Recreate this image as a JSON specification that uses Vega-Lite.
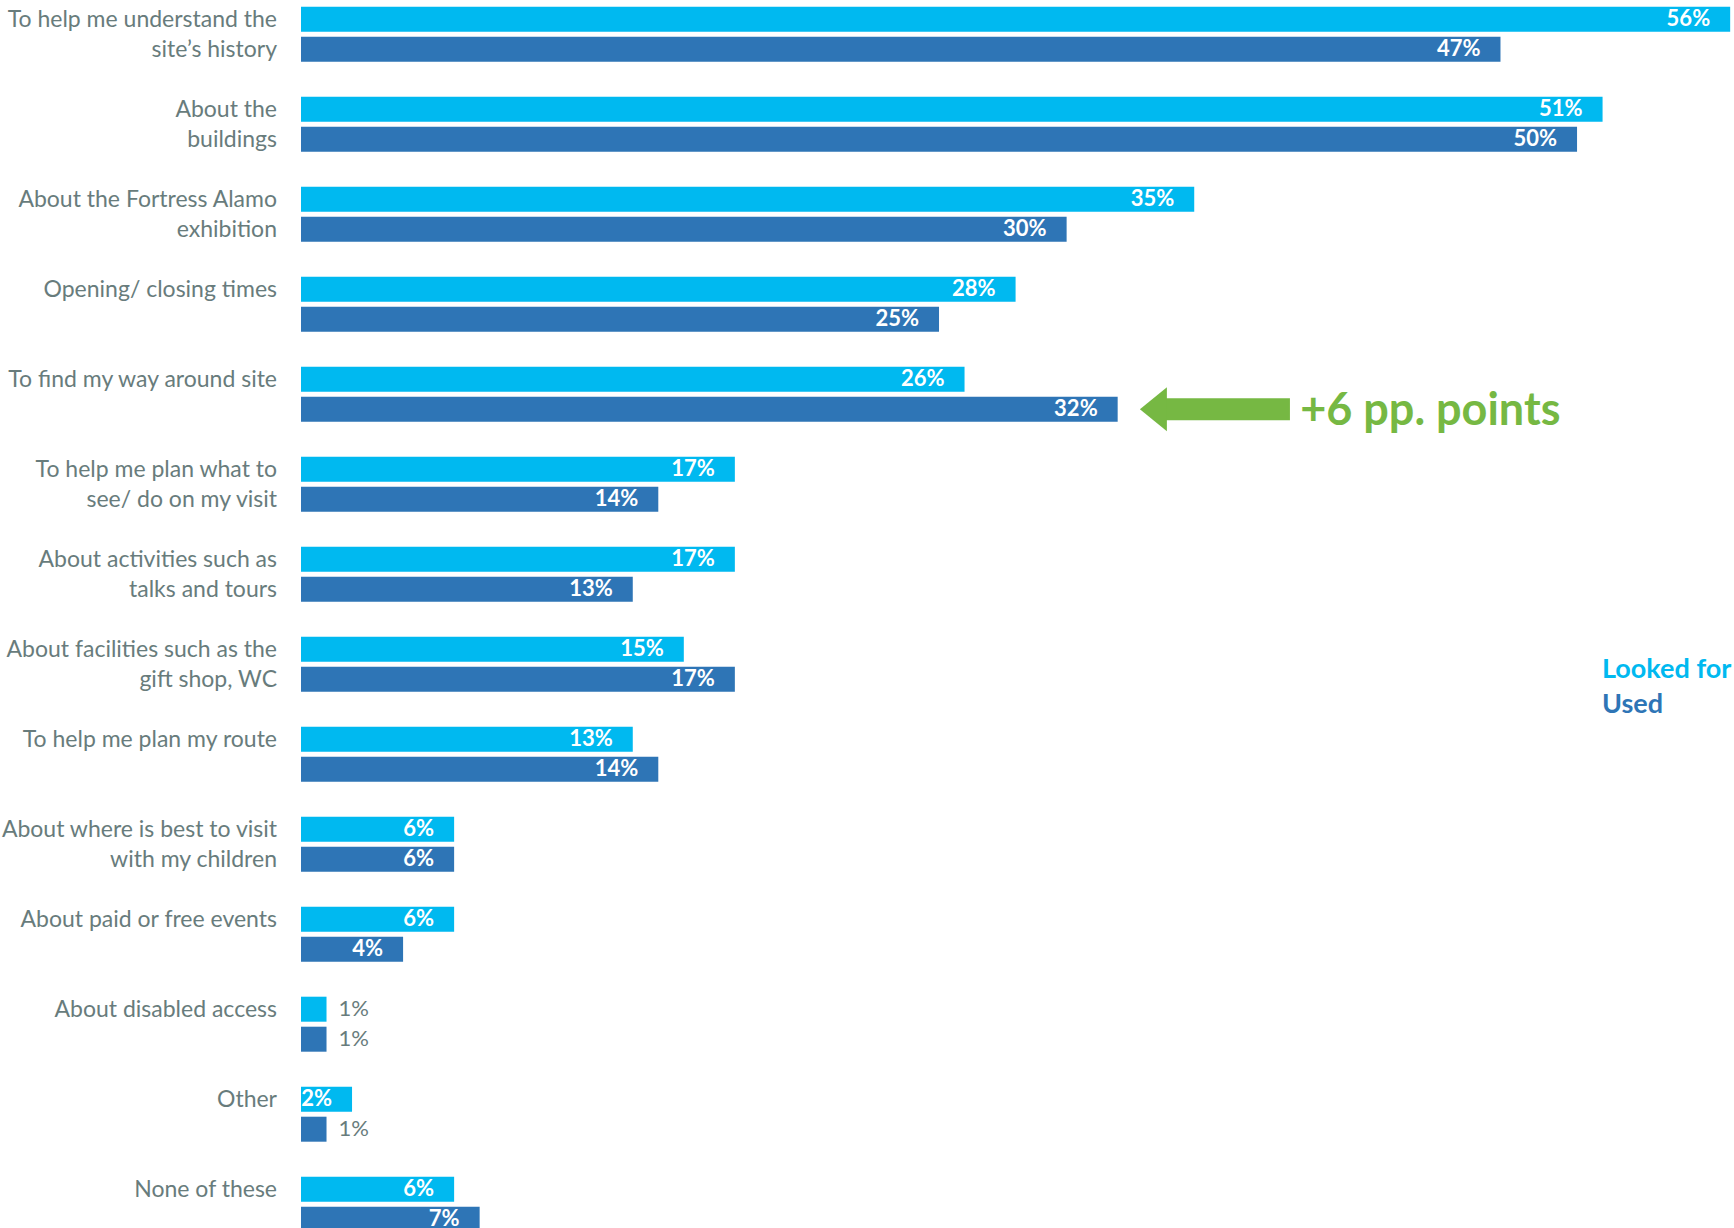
{
  "$schema": "https://vega.github.io/schema/vega-lite/v6.json",
  "width": 1433,
  "height": 1221.3,
  "autosize": {"type": "none"},
  "padding": {"left": 301, "top": 6.7, "right": 0, "bottom": 0},
  "background": "white",
  "config": {"view": {"stroke": null}, "font": "Lato"},
  "datasets": {
    "answers": [
      {"topic": "To help me understand the site’s history", "series": "Looked for", "pct": 0.56, "line": "To help me understand the"},
      {"topic": "To help me understand the site’s history", "series": "Used", "pct": 0.47, "line": "site’s history"},
      {"topic": "About the buildings", "series": "Looked for", "pct": 0.51, "line": "About the"},
      {"topic": "About the buildings", "series": "Used", "pct": 0.50, "line": "buildings"},
      {"topic": "About the Fortress Alamo exhibition", "series": "Looked for", "pct": 0.35, "line": "About the Fortress Alamo"},
      {"topic": "About the Fortress Alamo exhibition", "series": "Used", "pct": 0.30, "line": "exhibition"},
      {"topic": "Opening/ closing times", "series": "Looked for", "pct": 0.28, "line": "Opening/ closing times"},
      {"topic": "Opening/ closing times", "series": "Used", "pct": 0.25, "line": ""},
      {"topic": "To find my way around site", "series": "Looked for", "pct": 0.26, "line": "To find my way around site"},
      {"topic": "To find my way around site", "series": "Used", "pct": 0.32, "line": ""},
      {"topic": "To help me plan what to see/ do on my visit", "series": "Looked for", "pct": 0.17, "line": "To help me plan what to"},
      {"topic": "To help me plan what to see/ do on my visit", "series": "Used", "pct": 0.14, "line": "see/ do on my visit"},
      {"topic": "About activities such as talks and tours", "series": "Looked for", "pct": 0.17, "line": "About activities such as"},
      {"topic": "About activities such as talks and tours", "series": "Used", "pct": 0.13, "line": "talks and tours"},
      {"topic": "About facilities such as the gift shop, WC", "series": "Looked for", "pct": 0.15, "line": "About facilities such as the"},
      {"topic": "About facilities such as the gift shop, WC", "series": "Used", "pct": 0.17, "line": "gift shop, WC"},
      {"topic": "To help me plan my route", "series": "Looked for", "pct": 0.13, "line": "To help me plan my route"},
      {"topic": "To help me plan my route", "series": "Used", "pct": 0.14, "line": ""},
      {"topic": "About where is best to visit with my children", "series": "Looked for", "pct": 0.06, "line": "About where is best to visit"},
      {"topic": "About where is best to visit with my children", "series": "Used", "pct": 0.06, "line": "with my children"},
      {"topic": "About paid or free events", "series": "Looked for", "pct": 0.06, "line": "About paid or free events"},
      {"topic": "About paid or free events", "series": "Used", "pct": 0.04, "line": ""},
      {"topic": "About disabled access", "series": "Looked for", "pct": 0.01, "line": "About disabled access"},
      {"topic": "About disabled access", "series": "Used", "pct": 0.01, "line": ""},
      {"topic": "Other", "series": "Looked for", "pct": 0.02, "line": "Other"},
      {"topic": "Other", "series": "Used", "pct": 0.01, "line": ""},
      {"topic": "None of these", "series": "Looked for", "pct": 0.06, "line": "None of these"},
      {"topic": "None of these", "series": "Used", "pct": 0.07, "line": ""}
    ],
    "note": [{"text": "+6 pp. points"}]
  },
  "encoding": {
    "y": {
      "field": "topic",
      "type": "nominal",
      "axis": null,
      "scale": {
        "type": "band",
        "domain": [
          "To help me understand the site’s history",
          "About the buildings",
          "About the Fortress Alamo exhibition",
          "Opening/ closing times",
          "To find my way around site",
          "To help me plan what to see/ do on my visit",
          "About activities such as talks and tours",
          "About facilities such as the gift shop, WC",
          "To help me plan my route",
          "About where is best to visit with my children",
          "About paid or free events",
          "About disabled access",
          "Other",
          "None of these"
        ],
        "range": [0, 1225],
        "paddingInner": 0.3889,
        "paddingOuter": 0
      }
    },
    "yOffset": {
      "field": "series",
      "type": "nominal",
      "scale": {"domain": ["Looked for", "Used"], "paddingInner": 0.1667, "paddingOuter": 0}
    }
  },
  "layer": [
    {
      "data": {"name": "answers"},
      "mark": {"type": "bar"},
      "encoding": {
        "x": {
          "field": "pct",
          "type": "quantitative",
          "axis": null,
          "scale": {"domain": [0, 0.5615], "nice": false, "zero": true}
        },
        "color": {
          "field": "series",
          "type": "nominal",
          "scale": {"domain": ["Looked for", "Used"], "range": ["#00b9f0", "#2e75b6"]},
          "legend": {
            "orient": "none",
            "legendX": 1274,
            "legendY": 650,
            "title": null,
            "symbolOpacity": 0,
            "symbolSize": 0,
            "symbolStrokeWidth": 0,
            "labelOffset": 0,
            "labelFont": "Lato",
            "labelFontSize": 27,
            "labelFontWeight": "bold",
            "labelLimit": 0,
            "rowPadding": 7,
            "encode": {"labels": {"update": {"fill": {"scale": "color", "field": "value"}}}}
          }
        }
      }
    },
    {
      "data": {"name": "answers"},
      "mark": {"type": "text", "align": "right", "baseline": "middle", "dx": -24, "dy": 1, "fontSize": 23, "color": "#687c7c", "font": "Lato"},
      "encoding": {
        "x": {"datum": 0, "type": "quantitative"},
        "text": {"field": "line"}
      }
    },
    {
      "data": {"name": "answers"},
      "transform": [{"filter": "datum.pct > 0.01"}],
      "mark": {"type": "text", "align": "right", "baseline": "middle", "dx": -20, "fontSize": 22, "fontWeight": "bold", "color": "white", "font": "Lato"},
      "encoding": {
        "x": {"field": "pct", "type": "quantitative"},
        "text": {"field": "pct", "type": "quantitative", "format": ".0%"}
      }
    },
    {
      "data": {"name": "answers"},
      "transform": [{"filter": "datum.pct <= 0.01"}],
      "mark": {"type": "text", "align": "left", "baseline": "middle", "dx": 12, "fontSize": 22, "color": "#687c7c", "font": "Lato"},
      "encoding": {
        "x": {"field": "pct", "type": "quantitative"},
        "text": {"field": "pct", "type": "quantitative", "format": ".0%"}
      }
    },
    {
      "data": {"name": "note"},
      "mark": {"type": "rule", "color": "#76b843", "strokeWidth": 22, "strokeCap": "butt"},
      "encoding": {
        "x": {"datum": 0.337, "type": "quantitative"},
        "x2": {"datum": 0.3875},
        "y": {"datum": "To find my way around site"},
        "yOffset": {"datum": "Used"}
      }
    },
    {
      "data": {"name": "note"},
      "mark": {"type": "point", "shape": "M-1,0L1,-1.63L1,1.63Z", "size": 729, "filled": true, "opacity": 1, "color": "#76b843"},
      "encoding": {
        "x": {"datum": 0.334, "type": "quantitative"},
        "y": {"datum": "To find my way around site"},
        "yOffset": {"datum": "Used"}
      }
    },
    {
      "data": {"name": "note"},
      "mark": {"type": "text", "align": "left", "baseline": "middle", "dy": 2, "fontSize": 45, "fontWeight": "bold", "color": "#76b843", "font": "Lato"},
      "encoding": {
        "x": {"datum": 0.3915, "type": "quantitative"},
        "y": {"datum": "To find my way around site"},
        "yOffset": {"datum": "Used"},
        "text": {"field": "text"}
      }
    }
  ]
}
